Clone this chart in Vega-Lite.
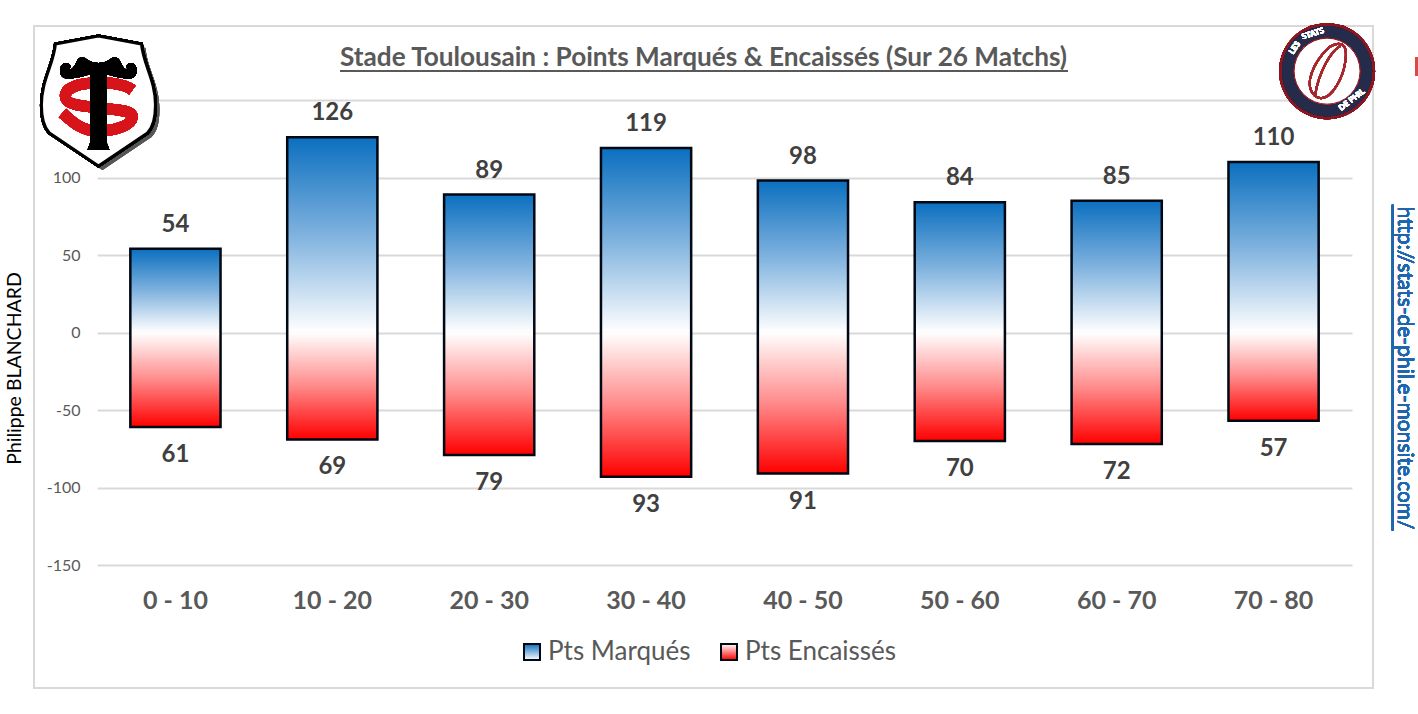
{"$schema":"https://vega.github.io/schema/vega-lite/v6.json","width":1339,"height":662,"autosize":{"type":"none"},"padding":{"left":34,"top":26,"right":45,"bottom":26},"background":"white","view":{"stroke":"#d9d9d9","strokeWidth":2,"fill":"white"},"title":{"text":"Stade Toulousain : Points Marqués & Encaissés (Sur 26 Matchs)","font":"Lato","fontSize":26.2,"fontWeight":"bold","color":"#595959","anchor":"middle","offset":-75,"baseline":"bottom"},"data":{"values":[{"interval":"0 - 10","serie":"Pts Marqués","value":54,"label":"54"},{"interval":"10 - 20","serie":"Pts Marqués","value":126,"label":"126"},{"interval":"20 - 30","serie":"Pts Marqués","value":89,"label":"89"},{"interval":"30 - 40","serie":"Pts Marqués","value":119,"label":"119"},{"interval":"40 - 50","serie":"Pts Marqués","value":98,"label":"98"},{"interval":"50 - 60","serie":"Pts Marqués","value":84,"label":"84"},{"interval":"60 - 70","serie":"Pts Marqués","value":85,"label":"85"},{"interval":"70 - 80","serie":"Pts Marqués","value":110,"label":"110"},{"interval":"0 - 10","serie":"Pts Encaissés","value":-61,"label":"61"},{"interval":"10 - 20","serie":"Pts Encaissés","value":-69,"label":"69"},{"interval":"20 - 30","serie":"Pts Encaissés","value":-79,"label":"79"},{"interval":"30 - 40","serie":"Pts Encaissés","value":-93,"label":"93"},{"interval":"40 - 50","serie":"Pts Encaissés","value":-91,"label":"91"},{"interval":"50 - 60","serie":"Pts Encaissés","value":-70,"label":"70"},{"interval":"60 - 70","serie":"Pts Encaissés","value":-72,"label":"72"},{"interval":"70 - 80","serie":"Pts Encaissés","value":-57,"label":"57"}]},"layer":[{"transform":[{"filter":"datum.value>0"}],"mark":{"type":"bar","strokeWidth":0,"cornerRadius":0,"fill":{"gradient":"linear","x1":0,"y1":0,"x2":0,"y2":1,"stops":[{"offset":0,"color":"#0b6fbf"},{"offset":0.5,"color":"#7fb2de"},{"offset":1,"color":"#ffffff"}]}},"encoding":{"x":{"field":"interval","type":"nominal","sort":null,"title":null,"scale":{"type":"band","domain":["0 - 10","10 - 20","20 - 30","30 - 40","40 - 50","50 - 60","60 - 70","70 - 80"],"range":[63,1318],"paddingInner":0.425,"paddingOuter":0.2125},"axis":{"orient":"bottom","offset":-123,"domain":false,"ticks":false,"grid":false,"labelAngle":0,"labelPadding":23,"labelFont":"Lato","labelFontSize":25,"labelFontWeight":"bold","labelColor":"#595959"}},"y":{"field":"value","type":"quantitative","scale":{"domain":[-150,150],"range":[539,74],"nice":false,"zero":false},"axis":{"title":"Philippe BLANCHARD","titleFont":"Lato","titleFontSize":19.5,"titleFontWeight":"normal","titleColor":"#000000","titleX":-60,"titleY":342,"titleAnchor":"middle","values":[-150,-100,-50,0,50,100,150],"labelExpr":"datum.value==150?'':''+datum.value","offset":-50,"domain":false,"ticks":false,"labelPadding":4,"labelFont":"Lato","labelFontSize":16,"labelColor":"#595959","grid":true,"gridColor":"#d9d9d9","gridWidth":2}}}},{"transform":[{"filter":"datum.value<0"}],"mark":{"type":"bar","strokeWidth":0,"cornerRadius":0,"fill":{"gradient":"linear","x1":0,"y1":0,"x2":0,"y2":1,"stops":[{"offset":0,"color":"#ffffff"},{"offset":0.5,"color":"#ff8a8a"},{"offset":1,"color":"#fe0000"}]}},"encoding":{"x":{"field":"interval","type":"nominal","sort":null},"y":{"field":"value","type":"quantitative"}}},{"transform":[{"aggregate":[{"op":"max","field":"value","as":"haut"},{"op":"min","field":"value","as":"bas"}],"groupby":["interval"]}],"mark":{"type":"bar","fill":null,"fillOpacity":0,"stroke":"#000814","strokeWidth":2.5,"cornerRadius":0},"encoding":{"x":{"field":"interval","type":"nominal","sort":null},"y":{"field":"haut","type":"quantitative"},"y2":{"field":"bas"}}},{"mark":{"type":"point","filled":false,"opacity":0,"size":1},"encoding":{"x":{"field":"interval","type":"nominal","sort":null},"y":{"field":"value","type":"quantitative"},"stroke":{"field":"serie","type":"nominal","title":null,"scale":{"domain":["Pts Marqués","Pts Encaissés"],"range":["#000814","#000814"]},"legend":{"orient":"none","legendX":485,"legendY":613,"direction":"horizontal","columns":2,"symbolType":"square","symbolSize":256,"symbolStrokeWidth":2,"symbolOpacity":1,"labelFont":"Lato","labelFontSize":26,"labelColor":"#595959","labelOffset":3,"columnPadding":25,"labelLimit":300,"encoding":{"symbols":{"opacity":{"value":1},"fill":{"value":{"expr":"datum.value==='Pts Marqués'?{gradient:'linear',x1:0,y1:0,x2:0,y2:1,stops:[{offset:0,color:'#0b6fbf'},{offset:1,color:'#ffffff'}]}:{gradient:'linear',x1:0,y1:0,x2:0,y2:1,stops:[{offset:0,color:'#ffffff'},{offset:1,color:'#fe0000'}]}"}}}}}}}},{"transform":[{"filter":"datum.value>0"}],"mark":{"type":"text","font":"Lato","fontSize":24,"fontWeight":"bold","color":"#404040","baseline":"middle","yOffset":-24},"encoding":{"x":{"field":"interval","type":"nominal","sort":null},"y":{"field":"value","type":"quantitative"},"text":{"field":"label"}}},{"transform":[{"filter":"datum.value<0"}],"mark":{"type":"text","font":"Lato","fontSize":24,"fontWeight":"bold","color":"#404040","baseline":"middle","yOffset":28},"encoding":{"x":{"field":"interval","type":"nominal","sort":null},"y":{"field":"value","type":"quantitative"},"text":{"field":"label"}}},{"mark":{"type":"rule","color":"#595959","strokeWidth":2,"xOffset":-149,"x2Offset":108,"yOffset":-29},"encoding":{"x":{"datum":"20 - 30","bandPosition":0.5},"x2":{"datum":"50 - 60","bandPosition":0.5},"y":{"datum":150}}},{"mark":{"type":"text","font":"Lato","fontSize":21,"color":"#1f66ad","angle":90,"align":"center","baseline":"middle","xOffset":130},"encoding":{"x":{"datum":"70 - 80"},"y":{"datum":-23},"text":{"value":"http://stats-de-phil.e-monsite.com/"}}},{"mark":{"type":"rule","color":"#1f66ad","strokeWidth":1.5,"xOffset":119},"encoding":{"x":{"datum":"70 - 80"},"y":{"datum":82.4},"y2":{"datum":-127.7}}},{"mark":{"type":"rule","color":"#d84a4a","strokeWidth":3,"xOffset":143},"encoding":{"x":{"datum":"70 - 80"},"y":{"datum":177.4},"y2":{"datum":165.8}}},{"mark":{"type":"point","filled":true,"size":4,"opacity":0.3,"fill":"#555555","xOffset":-73,"yOffset":4,"shape":"M0,-64 L43,-56 C45,-35 57,-20 57,5 C57,20 54,28 49,33 L0,66 L-49,33 C-54,28 -57,20 -57,5 C-57,-20 -45,-35 -43,-56 Z"},"encoding":{"x":{"datum":"0 - 10"},"y":{"datum":150}}},{"mark":{"type":"point","filled":true,"size":4,"opacity":1,"fill":"#ffffff","stroke":"#000000","strokeWidth":3,"xOffset":-77,"shape":"M0,-64 L43,-56 C45,-35 57,-20 57,5 C57,20 54,28 49,33 L0,66 L-49,33 C-54,28 -57,20 -57,5 C-57,-20 -45,-35 -43,-56 Z"},"encoding":{"x":{"datum":"0 - 10"},"y":{"datum":150}}},{"mark":{"type":"point","filled":false,"size":4,"opacity":1,"stroke":"#d7141a","strokeWidth":11,"xOffset":-77,"shape":"M34,-10 C26,-16 10,-18 -2,-17 C-20,-17 -34,-12 -33,-3 C-32,6 -12,6 2,8 C18,10 34,10 34,17 C33,26 15,31 -1,31 C-18,31 -28,20 -36,13"},"encoding":{"x":{"datum":"0 - 10"},"y":{"datum":150}}},{"mark":{"type":"point","filled":true,"size":4,"opacity":1,"fill":"#000000","xOffset":-77,"shape":"M-8,-26 C-14,-24 -28,-20 -34,-22 C-40,-24 -40,-36 -33,-37 C-27,-37 -27,-32 -30,-30 C-26,-30 -24,-34 -22,-38 C-20,-43 -16,-44 -12,-41 C-8,-38 -3,-37 0,-37 C3,-37 8,-38 12,-41 C16,-44 20,-43 22,-38 C24,-34 26,-30 30,-30 C27,-32 27,-37 33,-37 C40,-36 40,-24 34,-22 C28,-20 14,-24 8,-26 L8,42 L11,50 L-11,50 L-8,42 Z"},"encoding":{"x":{"datum":"0 - 10"},"y":{"datum":150}}},{"mark":{"type":"point","filled":true,"shape":"circle","size":9216,"opacity":1,"fill":"#8b1620","xOffset":53.5},"encoding":{"x":{"datum":"70 - 80"},"y":{"datum":168.6}}},{"mark":{"type":"point","filled":true,"shape":"circle","size":8100,"opacity":1,"fill":"#252b4a","xOffset":53.5},"encoding":{"x":{"datum":"70 - 80"},"y":{"datum":168.6}}},{"mark":{"type":"point","filled":true,"shape":"circle","size":4356,"opacity":1,"fill":"#ffffff","stroke":"#8b1620","strokeWidth":1,"xOffset":53.5},"encoding":{"x":{"datum":"70 - 80"},"y":{"datum":168.6}}},{"mark":{"type":"point","filled":false,"size":4,"opacity":1,"stroke":"#a8272d","strokeWidth":2,"xOffset":53.5,"shape":"M14,-27 C2,-30 -14,-8 -17,8 C-19,20 -12,27 -6,27 C6,27 16,5 18,-8 C20,-20 18,-26 14,-27 Z M13,-25 C4,-20 -8,0 -12,24"},"encoding":{"x":{"datum":"70 - 80"},"y":{"datum":168.6}}},{"mark":{"type":"text","font":"Lato","fontSize":8,"fontWeight":"bold","color":"#ffffff","angle":-55,"xOffset":21.5,"yOffset":-23},"encoding":{"x":{"datum":"70 - 80"},"y":{"datum":168.6},"text":{"value":"LES"}}},{"mark":{"type":"text","font":"Lato","fontSize":8,"fontWeight":"bold","color":"#ffffff","angle":-18,"xOffset":39.5,"yOffset":-37},"encoding":{"x":{"datum":"70 - 80"},"y":{"datum":168.6},"text":{"value":"STATS"}}},{"mark":{"type":"text","font":"Lato","fontSize":8,"fontWeight":"bold","color":"#ffffff","angle":-38,"xOffset":78.5,"yOffset":29},"encoding":{"x":{"datum":"70 - 80"},"y":{"datum":168.6},"text":{"value":"DE PHIL"}}}]}
